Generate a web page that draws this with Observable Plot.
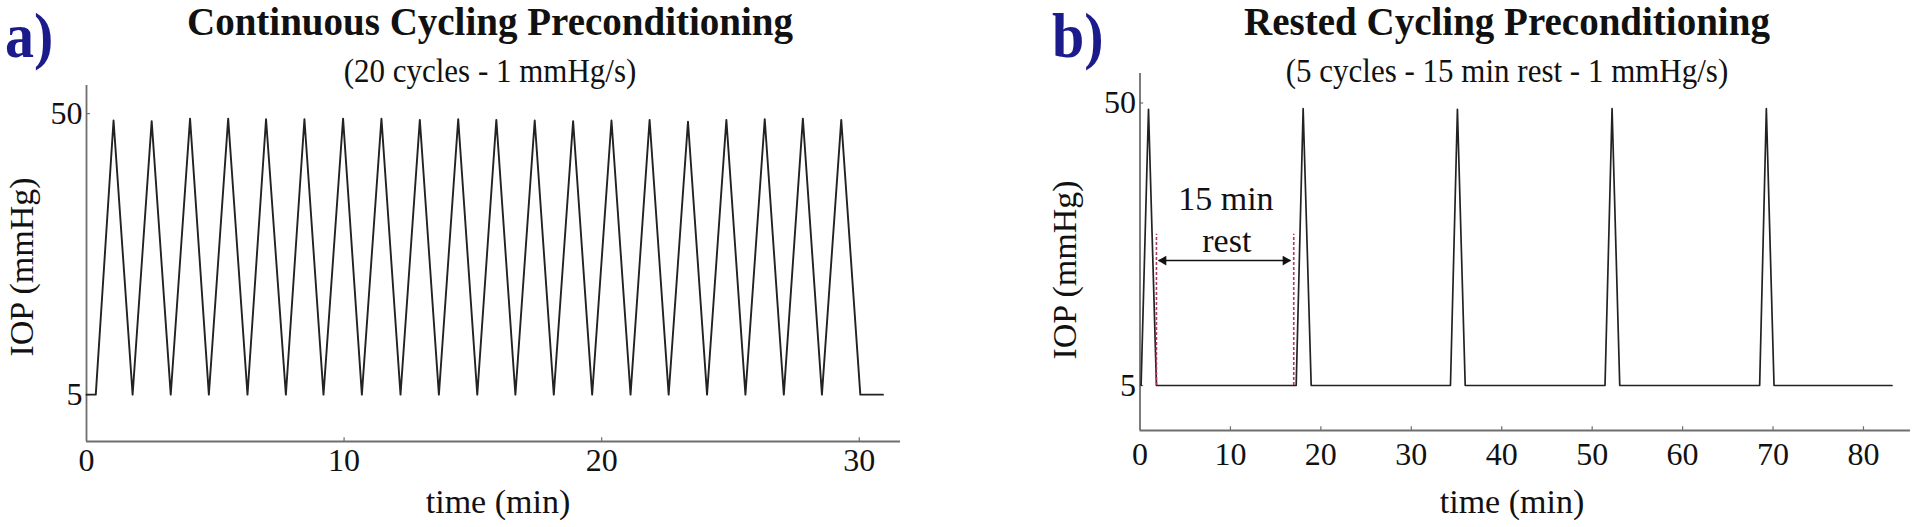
<!DOCTYPE html>
<html><head><meta charset="utf-8">
<script src="https://cdn.jsdelivr.net/npm/d3@7"></script>
<script src="https://cdn.jsdelivr.net/npm/@observablehq/plot@0.6"></script>
<style>
body{margin:0;background:#fff;}
#wrap{position:relative;width:1920px;height:527px;overflow:hidden;font-family:"Liberation Serif","Times New Roman",serif;color:#111;}
.abs{position:absolute;white-space:nowrap;line-height:1;}
.panel{position:absolute;top:0;width:960px;height:527px;}
.lbl{font-weight:bold;color:#1b1b8c;font-size:58px;transform:scale(1,1.1);transform-origin:0 85%;}
.title{font-weight:bold;font-size:39px;line-height:1.1;transform:translateX(-50%);}
.sub{font-size:31px;transform:translateX(-50%) scale(1,1.08);transform-origin:50% 85%;}
.ylab{font-size:34px;transform:translate(-50%,-50%) rotate(-90deg);}
.xlab{font-size:34px;transform:translate(-50%,-50%);}
</style></head>
<body><div id="wrap"></div>
<script>
// ---------- data ----------
// a) continuous cycling: vertices of the pressure trace (time in min, IOP in mmHg)
const contTime = [0, 0.36, 1.05, 1.79, 2.53, 3.27, 4.02, 4.75, 5.50, 6.25, 6.97, 7.74, 8.46, 9.20, 9.96, 10.69,
  11.45, 12.19, 12.94, 13.68, 14.43, 15.17, 15.91, 16.65, 17.40, 18.14, 18.89, 19.63, 20.38, 21.12,
  21.86, 22.60, 23.35, 24.09, 24.84, 25.58, 26.33, 27.07, 27.81, 28.55, 29.30, 30.04, 30.92];
const contIOP = [5, 5, 48.9, 5, 48.8, 5, 49.2, 5, 49.2, 5, 49.1, 5, 49.1, 5, 49.2, 5,
  49.2, 5, 49.0, 5, 49.1, 5, 49.0, 5, 48.9, 5, 48.8, 5, 48.9, 5,
  49.0, 5, 48.7, 5, 49.0, 5, 49.1, 5, 49.2, 5, 49.0, 5, 5];
// b) rested cycling
const restTime = [0.12, 0.94, 1.82, 17.27, 18.04, 18.93, 34.33, 35.10, 35.96, 51.42, 52.20, 53.05, 68.52, 69.26, 70.11, 83.15];
const restIOP  = [5, 49.0, 5, 5, 49.1, 5, 5, 49.0, 5, 5, 49.1, 5, 5, 49.1, 5, 5];
// rest annotation
const restMarks = [1.82, 17.0];
const restMarkRange = [5, 29.1];
const restArrowX = [2.05, 16.64];
const restArrowY = 24.9;
const restLabels = ["15 min", "rest"];
const restLabelX = [9.5, 9.6];
const restLabelY = [32.9, 26.2];
// axes
const contTicksX = [0, 10, 20, 30];
const restTicksX = [0, 10, 20, 30, 40, 50, 60, 70, 80];
const ticksY = [5, 50];
const contDomX = [0, 31.6], contDomY = [-2.5, 54.5];
const restDomX = [0, 85.2], restDomY = [-2.17, 54.7];
const panelTitles = ["Continuous Cycling Preconditioning", "Rested Cycling Preconditioning"];
const panelSubs = ["(20 cycles - 1 mmHg/s)", "(5 cycles - 15 min rest - 1 mmHg/s)"];
const panelTags = ["a)", "b)"];
const xLabel = "time (min)", yLabel = "IOP (mmHg)";

// ---------- drawing ----------
const FONT = '"Liberation Serif","Times New Roman",serif';
const AX = "#6e6e6e";
const contData = contTime.map((t, i) => ({t, v: contIOP[i]}));
const restData = restTime.map((t, i) => ({t, v: restIOP[i]}));

function frame(domX, domY, ticksX, xTickLen, yTickLen, padX) {
  return [
    Plot.axisX({ticks: ticksX, tickSize: 0, tickPadding: padX, label: null, fontSize: 32}),
    Plot.axisY({ticks: ticksY, tickSize: 0, tickPadding: 4, label: null, fontSize: 32}),
    Plot.ruleY([domY[0]], {stroke: AX, strokeWidth: 1.8}),
    Plot.ruleX([domX[0]], {stroke: AX, strokeWidth: 1.8}),
    Plot.ruleX(ticksX.filter(d => d !== domX[0]), {x: d => d, y1: domY[0], y2: domY[0] + xTickLen, stroke: AX, strokeWidth: 1.2}),
    Plot.ruleY(ticksY, {y: d => d, x1: domX[0], x2: domX[0] + yTickLen, stroke: AX, strokeWidth: 1.2})
  ];
}

const left = Plot.plot({
  width: 960, height: 527,
  marginLeft: 86, marginRight: 60, marginTop: 85, marginBottom: 86,
  style: {background: "transparent", fontFamily: FONT, fontSize: "32px", color: "#111"},
  x: {domain: contDomX}, y: {domain: contDomY},
  marks: [
    ...frame(contDomX, contDomY, contTicksX, 0.6, 0.15, 7),
    Plot.line(contData, {x: "t", y: "v", stroke: "#222", strokeWidth: 1.9, strokeLinejoin: "round"})
  ]
});

const arrowHeads = [
  {x: restArrowX[0], y: restArrowY},
  {x: restArrowX[1], y: restArrowY}
];

const right = Plot.plot({
  width: 960, height: 527,
  marginLeft: 179.5, marginRight: 10, marginTop: 73, marginBottom: 97,
  style: {background: "transparent", fontFamily: FONT, fontSize: "32px", color: "#111"},
  x: {domain: restDomX}, y: {domain: restDomY},
  marks: [
    ...frame(restDomX, restDomY, restTicksX, 0.6, 0.4, 12),
    Plot.line(restData, {x: "t", y: "v", stroke: "#222", strokeWidth: 1.7, strokeLinejoin: "round"}),
    Plot.ruleX(restMarks, {x: d => d, y1: restMarkRange[0], y2: restMarkRange[1], stroke: "#b0355f", strokeWidth: 1.6, strokeDasharray: "3,2"}),
    Plot.link([{a: restArrowX[0], b: restArrowX[1], y: restArrowY}], {x1: "a", x2: "b", y1: "y", y2: "y", stroke: "#111", strokeWidth: 1.6}),
    Plot.dot([arrowHeads[0]], {x: "x", y: "y", symbol: "triangle", r: 3.6, rotate: -90, dx: 5, fill: "#111", stroke: "none"}),
    Plot.dot([arrowHeads[1]], {x: "x", y: "y", symbol: "triangle", r: 3.6, rotate: 90, dx: -5, fill: "#111", stroke: "none"}),
    Plot.text(restLabels.map((s, i) => ({s, x: restLabelX[i], y: restLabelY[i]})), {x: "x", y: "y", text: "s", fontSize: 34, lineAnchor: "bottom", fill: "#111"})
  ]
});

const wrap = document.getElementById("wrap");
function add(x, cls, txt, y) {
  const d = document.createElement("div");
  d.className = "abs " + cls; d.textContent = txt;
  d.style.left = x + "px"; d.style.top = y + "px";
  wrap.appendChild(d); return d;
}
const p1 = document.createElement("div"); p1.className = "panel"; p1.style.left = "0px"; p1.appendChild(left); wrap.appendChild(p1);
const p2 = document.createElement("div"); p2.className = "panel"; p2.style.left = "960px"; p2.appendChild(right); wrap.appendChild(p2);

add(5, "lbl", panelTags[0], 9);
add(1052, "lbl", panelTags[1], 9);
add(490, "title", panelTitles[0], 1);
add(1507, "title", panelTitles[1], 1);
add(490, "sub", panelSubs[0], 56);
add(1507, "sub", panelSubs[1], 56);
add(22, "ylab", yLabel, 267);
add(1065, "ylab", yLabel, 270);
add(498, "xlab", xLabel, 502);
add(1512, "xlab", xLabel, 502);
</script>
</body></html>
